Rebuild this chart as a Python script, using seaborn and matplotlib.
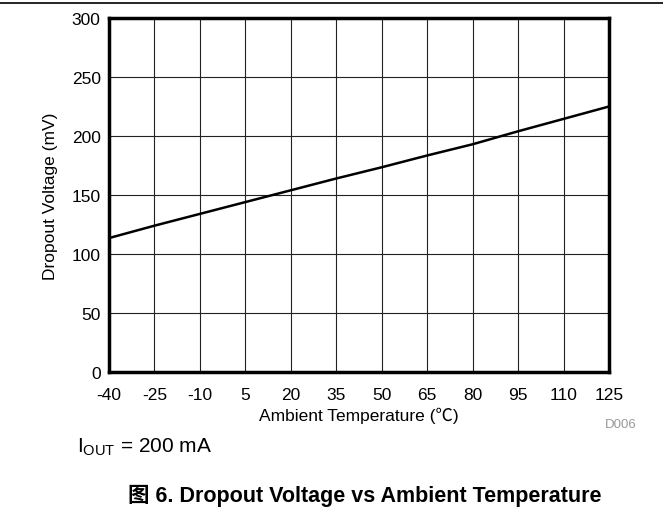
import matplotlib
matplotlib.use("Agg")
import matplotlib.pyplot as plt
from matplotlib.lines import Line2D
import pandas as pd
import seaborn as sns

# Dropout voltage vs ambient temperature, IOUT = 200 mA
temperature_c = [-40, -25, -10, 5, 20, 35, 50, 65, 80, 95, 110, 125]
dropout_mv = [113.5, 124, 134, 144, 154, 164, 173.5, 183.5, 193, 204, 214.5, 225]

x_ticks = [-40, -25, -10, 5, 20, 35, 50, 65, 80, 95, 110, 125]
y_ticks = [0, 50, 100, 150, 200, 250, 300]

sns.set_theme(style="white")
plt.rcParams["font.family"] = ["Liberation Sans", "Noto Sans CJK SC", "DejaVu Sans"]
plt.rcParams["mathtext.fontset"] = "custom"
plt.rcParams["mathtext.rm"] = "Liberation Sans"

df = pd.DataFrame({"temp": temperature_c, "vdo": dropout_mv})

fig = plt.figure(figsize=(6.63, 5.10), dpi=100)
ax = fig.add_axes([109 / 663, 1 - 373 / 510, 500 / 663, 354 / 510])

sns.lineplot(data=df, x="temp", y="vdo", ax=ax, color="black", linewidth=1.8, zorder=3)

ax.set_xlim(-40, 125)
ax.set_ylim(0, 300)
ax.set_xticks(x_ticks)
ax.set_yticks(y_ticks)
ax.set_xticklabels([str(v) for v in x_ticks])
ax.set_yticklabels([str(v) for v in y_ticks])
ax.grid(True, color="#222222", linewidth=0.8)
ax.tick_params(axis="both", length=0, labelsize=12.5, colors="black")
ax.tick_params(axis="x", pad=11)
ax.tick_params(axis="y", pad=6)

for s in ax.spines.values():
    s.set_visible(True)
    s.set_color("black")
    s.set_linewidth(2.5)
    s.set_zorder(4)

ax.set_xlabel("Ambient Temperature (℃)", fontsize=12.5, color="black", labelpad=3)
ax.set_ylabel("Dropout Voltage (mV)", fontsize=12.5, color="black", labelpad=10)

# rule across the top of the page
fig.add_artist(Line2D([0, 1], [1 - 3.5 / 510, 1 - 3.5 / 510], color="black",
                      linewidth=1.2, transform=fig.transFigure))

fig.text(621 / 663, 1 - 425 / 510, "D006", fontsize=9.5, color="#999999",
         ha="center", va="center")
fig.text(77 / 663, 1 - 453 / 510, r"$\mathregular{I_{OUT}}$ = 200 mA",
         fontsize=15, color="black", ha="left", va="baseline")
fig.text(365 / 663, 1 - 502 / 510, "图 6. Dropout Voltage vs Ambient Temperature",
         fontsize=15.5, fontweight="bold", color="black", ha="center", va="baseline")

fig.savefig("out.png", dpi=100)
